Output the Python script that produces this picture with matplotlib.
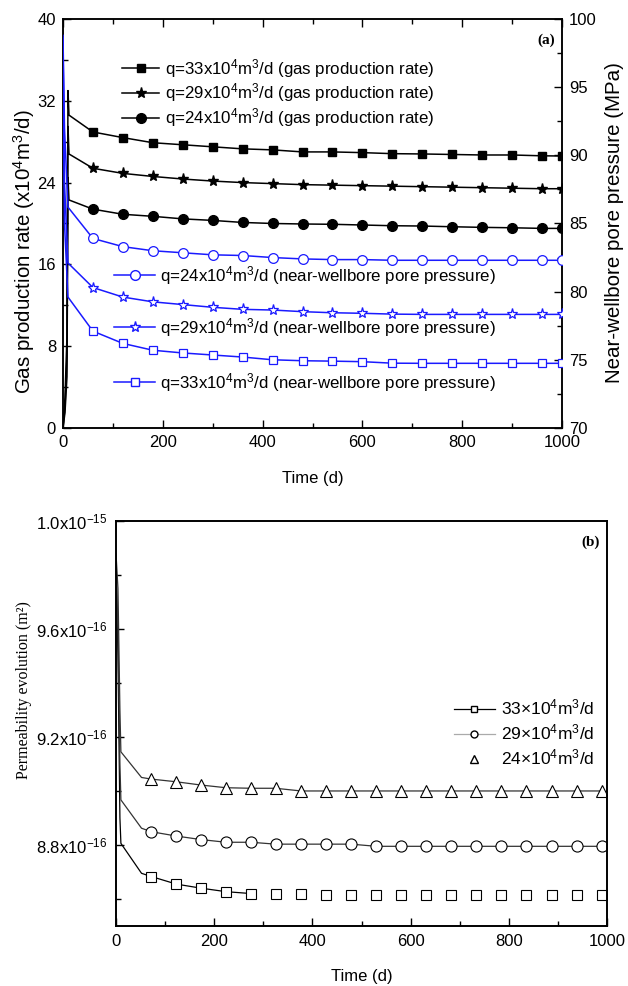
import matplotlib
matplotlib.use("Agg")
import matplotlib.pyplot as plt
from matplotlib.ticker import MultipleLocator, FuncFormatter
from matplotlib.lines import Line2D
from matplotlib.legend import Legend

plt.rcParams['font.family'] = ['Liberation Sans', 'DejaVu Sans']
plt.rcParams['mathtext.fontset'] = 'custom'
plt.rcParams['mathtext.rm'] = 'Liberation Sans'
plt.rcParams['mathtext.it'] = 'Liberation Sans:italic'
plt.rcParams['mathtext.bf'] = 'Liberation Sans:bold'

# ---------------- panel (a) data ----------------
t_early = [0, 4, 8, 10, 12]
t_mark = [60, 120, 180, 240, 300, 360, 420, 480, 540, 600, 660, 720, 780, 840, 900, 960, 1000]

gas33_early = [0, 3, 9, 33.0, 30.6]
gas33 = [28.95, 28.4, 27.9, 27.7, 27.5, 27.3, 27.2, 27.0, 27.0, 26.93, 26.83, 26.8, 26.75, 26.7, 26.7, 26.62, 26.6]
gas29_early = [0, 2, 7, 29.5, 26.8]
gas29 = [25.4, 24.9, 24.6, 24.35, 24.15, 24.0, 23.9, 23.8, 23.75, 23.7, 23.65, 23.6, 23.55, 23.5, 23.45, 23.4, 23.4]
gas24_early = [0, 1.5, 5, 24.5, 22.3]
gas24 = [21.4, 20.9, 20.7, 20.45, 20.3, 20.1, 20.0, 19.95, 19.92, 19.85, 19.78, 19.75, 19.68, 19.62, 19.58, 19.52, 19.52]

p_early_t = [0, 3, 10]
p24_early = [98.8, 92.0, 86.2]
p24 = [83.9, 83.3, 83.0, 82.85, 82.7, 82.65, 82.5, 82.4, 82.35, 82.35, 82.3, 82.3, 82.3, 82.3, 82.3, 82.3, 82.3]
p29_early = [98.6, 88.0, 82.1]
p29 = [80.3, 79.6, 79.25, 79.05, 78.85, 78.7, 78.65, 78.53, 78.45, 78.41, 78.35, 78.33, 78.33, 78.33, 78.33, 78.33, 78.33]
p33_early = [98.4, 85.0, 79.6]
p33 = [77.1, 76.2, 75.7, 75.5, 75.35, 75.2, 75.0, 74.93, 74.9, 74.86, 74.75, 74.74, 74.74, 74.74, 74.74, 74.74, 74.74]

# ---------------- panel (b) data ----------------
tk_early = [0, 4, 8, 10, 52]
tk_mark = [72, 123, 173, 224, 275, 325, 377, 428, 479, 530, 581, 632, 683, 734, 785, 836, 887, 938, 990]
k24_early = [9.88, 9.75, 9.30, 9.145, 9.05]
k24 = [9.044, 9.034, 9.022, 9.012, 9.01, 9.01, 9.0, 9.0, 9.0, 9.0, 9.0, 9.0, 9.0, 9.0, 9.0, 9.0, 9.0, 9.0, 9.0]
k29_early = [9.85, 9.60, 9.10, 8.967, 8.862]
k29 = [8.849, 8.833, 8.82, 8.81, 8.81, 8.803, 8.803, 8.803, 8.803, 8.795, 8.795, 8.795, 8.795, 8.795, 8.795, 8.795, 8.795, 8.795, 8.795]
k33_early = [9.82, 9.50, 8.90, 8.806, 8.695]
k33 = [8.683, 8.655, 8.64, 8.627, 8.62, 8.62, 8.62, 8.615, 8.615, 8.615, 8.615, 8.615, 8.615, 8.615, 8.615, 8.615, 8.615, 8.615, 8.615]

fig = plt.figure(figsize=(6.28, 9.86), dpi=100)

# ================= panel (a) =================
ax = fig.add_axes([0.1003, 0.566, 0.7947, 0.4147])
ax2 = ax.twinx()
blue = '#1a1aff'
fs = 12
lab_fs = 14.8

def series(early_t, early_v, mt, mv):
    return list(early_t) + list(mt), list(early_v) + list(mv)

for et, ev, v, mk, ms in [(t_early, gas33_early, gas33, 's', 6),
                          (t_early, gas29_early, gas29, '*', 8),
                          (t_early, gas24_early, gas24, 'o', 7)]:
    tt, vv = series(et, ev, t_mark, v)
    n0 = len(et)
    ax.plot(tt, vv, color='black', lw=1.1, marker=mk, ms=ms, mfc='black', mec='black',
            markevery=list(range(n0, len(tt))), clip_on=True, zorder=3)

for et, ev, v, mk, ms in [(p_early_t, p24_early, p24, 'o', 7),
                          (p_early_t, p29_early, p29, '*', 8),
                          (p_early_t, p33_early, p33, 's', 6)]:
    tt, vv = series(et, ev, t_mark, v)
    n0 = len(et)
    ax2.plot(tt, vv, color=blue, lw=1.1, marker=mk, ms=ms, mfc='white', mec=blue, mew=0.9,
             markevery=list(range(n0, len(tt))), clip_on=True, zorder=3)

ax.set_xlim(0, 1000)
ax.set_ylim(0, 40)
ax2.set_ylim(70, 100)
ax.xaxis.set_major_locator(MultipleLocator(200))
ax.xaxis.set_minor_locator(MultipleLocator(100))
ax.yaxis.set_major_locator(MultipleLocator(8))
ax.yaxis.set_minor_locator(MultipleLocator(4))
ax2.yaxis.set_major_locator(MultipleLocator(5))
ax2.yaxis.set_minor_locator(MultipleLocator(2.5))
ax.tick_params(axis='both', which='both', direction='in', top=True, labelsize=fs, pad=5)
ax.tick_params(which='major', length=6, width=1)
ax.tick_params(which='minor', length=3.5, width=1)
ax.tick_params(axis='y', right=False)
ax2.tick_params(axis='y', which='both', direction='in', labelsize=fs, pad=5)
ax2.tick_params(which='major', length=6, width=1)
ax2.tick_params(which='minor', length=3.5, width=1)
for a in (ax, ax2):
    for s in a.spines.values():
        s.set_linewidth(1.1)

ax.set_xlabel('Time (d)', fontsize=fs, labelpad=15)
ax.set_ylabel('Gas production rate (x10$^4$m$^3$/d)', fontsize=lab_fs)
ax.yaxis.set_label_coords(-0.052, 0.43)
ax2.set_ylabel('Near-wellbore pore pressure (MPa)', fontsize=lab_fs)
ax2.yaxis.set_label_coords(1.086, 0.503)
ax.text(0.985, 0.965, '(a)', transform=ax.transAxes, ha='right', va='top',
        fontsize=11, fontweight='bold', family='Liberation Serif')

lfs = 12.2
h1 = [Line2D([], [], color='black', lw=1.1, marker='s', ms=6),
      Line2D([], [], color='black', lw=1.1, marker='*', ms=8),
      Line2D([], [], color='black', lw=1.1, marker='o', ms=7)]
l1 = ['q=33x10$^4$m$^3$/d (gas production rate)',
      'q=29x10$^4$m$^3$/d (gas production rate)',
      'q=24x10$^4$m$^3$/d (gas production rate)']
leg1 = Legend(ax, h1, l1, loc='center left', bbox_to_anchor=(0.118, 0.819), frameon=False,
              fontsize=lfs, handlelength=2.2, handletextpad=0.35, labelspacing=0.1,
              borderpad=0, borderaxespad=0)
ax.add_artist(leg1)

blue_entries = [('o', 7, 'q=24x10$^4$m$^3$/d (near-wellbore pore pressure)', 0.373),
                ('*', 8, 'q=29x10$^4$m$^3$/d (near-wellbore pore pressure)', 0.246),
                ('s', 6, 'q=33x10$^4$m$^3$/d (near-wellbore pore pressure)', 0.111)]
for mk, ms, lab, yy in blue_entries:
    h = Line2D([], [], color=blue, lw=1.1, marker=mk, ms=ms, mfc='white', mec=blue)
    lg = Legend(ax, [h], [lab], loc='center left', bbox_to_anchor=(0.103, yy), frameon=False,
                fontsize=lfs, handlelength=2.4, handletextpad=0.3, borderpad=0, borderaxespad=0)
    ax.add_artist(lg)

# ================= panel (b) =================
bx = fig.add_axes([0.1847, 0.0609, 0.7819, 0.4107])
sc = 1e-16
tt, vv = series(tk_early, k33_early, tk_mark, k33)
bx.plot(tt[:10], [v * sc for v in vv[:10]], color='black', lw=0.9)
bx.plot(tk_mark, [v * sc for v in k33], ls='none', marker='s', ms=7, mfc='white', mec='black', mew=0.8)
tt, vv = series(tk_early, k29_early, tk_mark, k29)
bx.plot(tt, [v * sc for v in vv], color='#333333', lw=0.9)
bx.plot(tk_mark, [v * sc for v in k29], ls='none', marker='o', ms=8, mfc='white', mec='black', mew=0.8)
tt, vv = series(tk_early, k24_early, tk_mark, k24)
bx.plot(tt, [v * sc for v in vv], color='#333333', lw=0.9)
bx.plot(tk_mark, [v * sc for v in k24], ls='none', marker='^', ms=8, mfc='white', mec='black', mew=0.8)

bx.set_xlim(0, 1000)
bx.set_ylim(8.5e-16, 1.0e-15)
bx.xaxis.set_major_locator(MultipleLocator(200))
bx.xaxis.set_minor_locator(MultipleLocator(100))
bx.yaxis.set_major_locator(MultipleLocator(0.4e-16))
bx.yaxis.set_minor_locator(MultipleLocator(0.2e-16))

def kfmt(v, pos):
    m, e = f'{v:.1e}'.split('e')
    return f'{m}x10$^{{{int(e)}}}$'
bx.yaxis.set_major_formatter(FuncFormatter(kfmt))
bx.tick_params(axis='both', which='both', direction='in', labelsize=fs, pad=6)
bx.tick_params(which='major', length=6, width=1)
bx.tick_params(which='minor', length=3.5, width=1)
for s in bx.spines.values():
    s.set_linewidth(1.4)
bx.set_xlabel('Time (d)', fontsize=fs, labelpad=14)
bx.set_ylabel('Permeability evolution (m\u00b2)', fontsize=11.5, family='Liberation Serif')
bx.yaxis.set_label_coords(-0.171, 0.583)
bx.text(0.985, 0.965, '(b)', transform=bx.transAxes, ha='right', va='top',
        fontsize=11, fontweight='bold', family='Liberation Serif')

hb = [Line2D([], [], color='black', lw=0.9, marker='s', ms=5, mfc='white', mec='black'),
      Line2D([], [], color='#aaaaaa', lw=0.9, marker='o', ms=5, mfc='white', mec='black'),
      Line2D([], [], ls='none', marker='^', ms=6, mfc='white', mec='black')]
lb = ['33\u00d710$^4$m$^3$/d', '29\u00d710$^4$m$^3$/d', '24\u00d710$^4$m$^3$/d']
bx.legend(hb, lb, loc='center left', bbox_to_anchor=(0.688, 0.477), frameon=False,
          fontsize=12.5, handlelength=2.35, handletextpad=0.35, labelspacing=0.3,
          borderpad=0, borderaxespad=0)

fig.savefig('out.png', dpi=100)
